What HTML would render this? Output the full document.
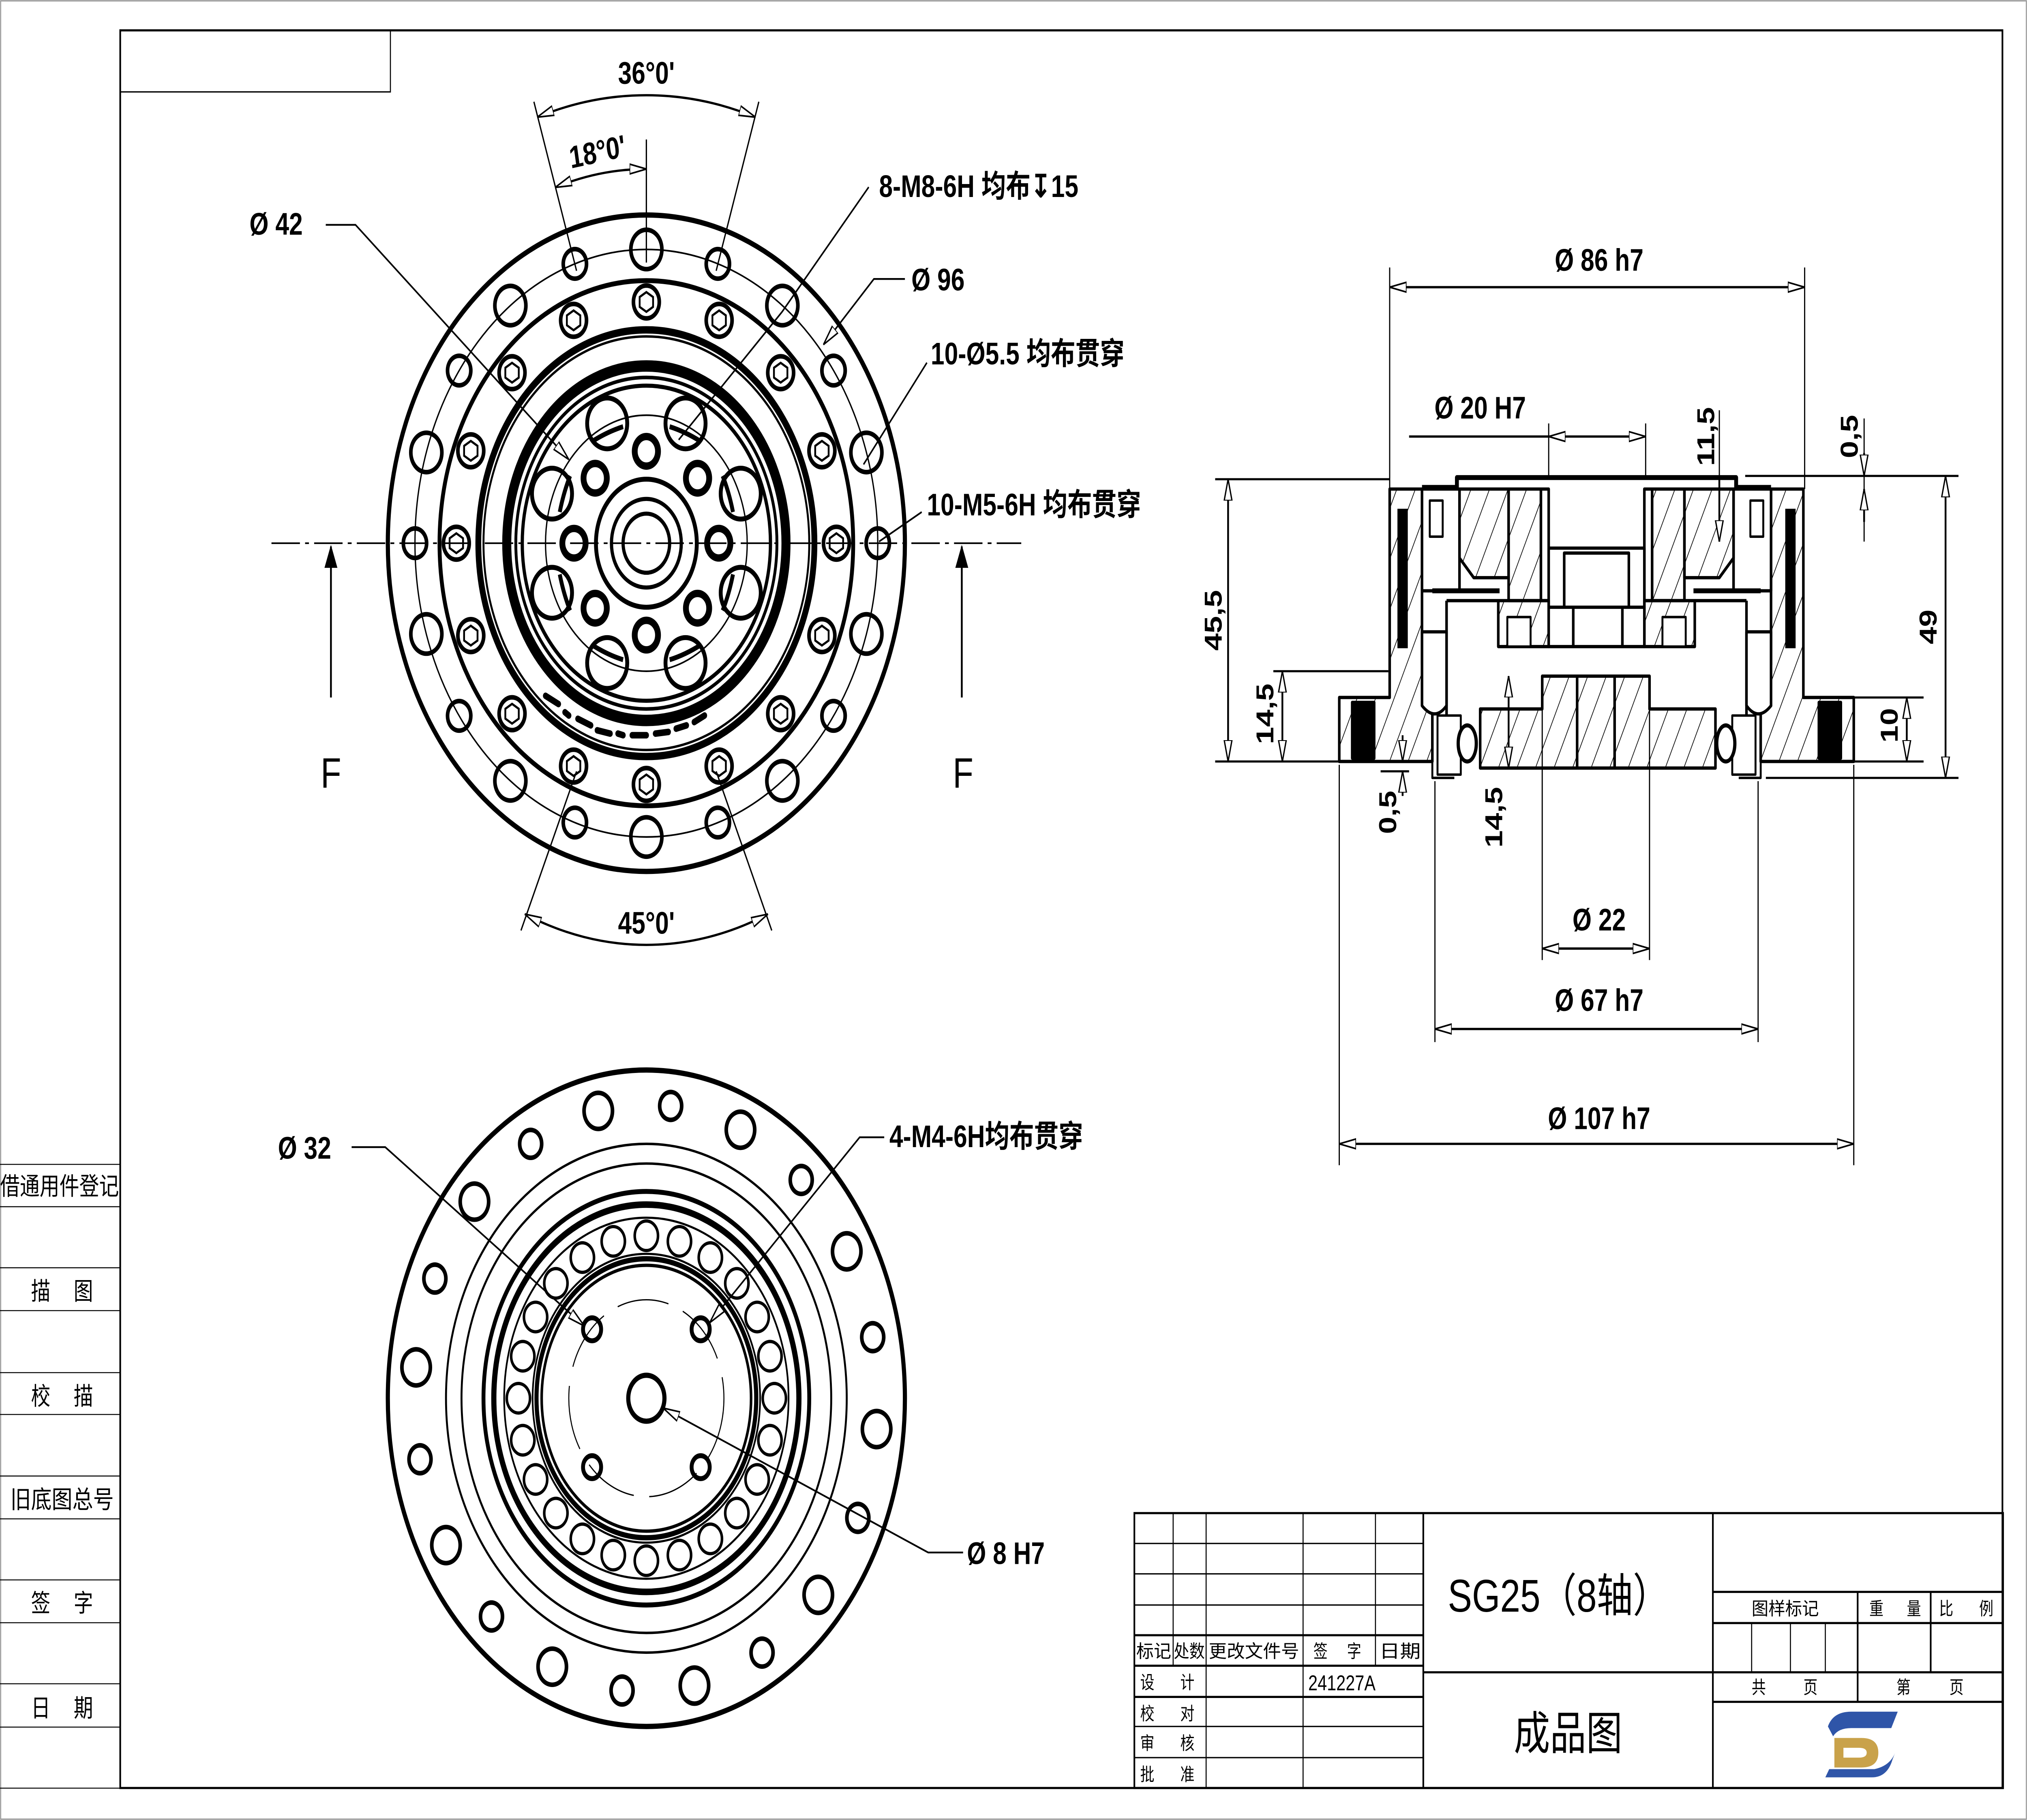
<!DOCTYPE html>
<html><head><meta charset="utf-8"><style>
html,body{margin:0;padding:0;background:#fff;overflow:hidden;width:100vw;height:100vh}
svg{display:block;width:100vw;height:100vh}
text{font-family:"Liberation Sans","Noto Sans CJK SC",sans-serif;fill:#000}
.b{font-weight:bold;font-size:19px}
.s{font-size:11px;font-family:"Liberation Serif","Noto Serif CJK SC",serif}
</style></head><body>
<svg viewBox="0 0 1568 1109" preserveAspectRatio="none" xmlns="http://www.w3.org/2000/svg">
<defs>
<marker id="a" markerWidth="14" markerHeight="8" refX="13" refY="4" orient="auto-start-reverse" markerUnits="userSpaceOnUse"><path d="M0,1 L13,4 L0,7 Z" fill="#fff" stroke="#000" stroke-width="1"/></marker>
<marker id="f" markerWidth="14" markerHeight="10" refX="13" refY="5" orient="auto-start-reverse" markerUnits="userSpaceOnUse"><path d="M0,0 L14,5 L0,10 Z" fill="#000"/></marker>
<pattern id="h" width="13" height="13" patternUnits="userSpaceOnUse" patternTransform="rotate(25)"><line x1="0" y1="0" x2="0" y2="13" stroke="#000" stroke-width="1"/></pattern>
<g id="hx"><circle r="10" fill="none" stroke="#000" stroke-width="2.8"/><polygon points="0,-6 5.2,-3 5.2,3 0,6 -5.2,3 -5.2,-3" fill="none" stroke="#000" stroke-width="1.4"/></g>
<circle id="sh" r="9" fill="none" stroke="#000" stroke-width="2.8"/>
<circle id="bh" r="12" fill="none" stroke="#000" stroke-width="2.8"/>
<circle id="lh" r="15.5" fill="none" stroke="#000" stroke-width="3"/>
<circle id="mh" r="9" fill="none" stroke="#000" stroke-width="4.5"/>
<circle id="bl" r="9" fill="none" stroke="#000" stroke-width="2"/>
<circle id="b2" r="11" fill="none" stroke="#000" stroke-width="2.8"/>
<circle id="s2" r="8.5" fill="none" stroke="#000" stroke-width="2.8"/>
</defs>

<rect x="0.5" y="0.5" width="1567" height="1108" fill="none" stroke="#999" stroke-width="0.8"/>
<rect x="93" y="18.5" width="1456" height="1071" fill="none" stroke="#000" stroke-width="1.3"/>
<rect x="93" y="18.5" width="209" height="37.5" fill="none" stroke="#000" stroke-width="0.8"/>

<g stroke="#000" stroke-width="0.6">
<line x1="0" y1="709.5" x2="93" y2="709.5"/><line x1="0" y1="735.3" x2="93" y2="735.3"/>
<line x1="0" y1="772.5" x2="93" y2="772.5"/><line x1="0" y1="798.6" x2="93" y2="798.6"/>
<line x1="0" y1="836.4" x2="93" y2="836.4"/><line x1="0" y1="861.9" x2="93" y2="861.9"/>
<line x1="0" y1="899.4" x2="93" y2="899.4"/><line x1="0" y1="925.5" x2="93" y2="925.5"/>
<line x1="0" y1="962.7" x2="93" y2="962.7"/><line x1="0" y1="988.8" x2="93" y2="988.8"/>
<line x1="0" y1="1026" x2="93" y2="1026"/><line x1="0" y1="1052.4" x2="93" y2="1052.4"/>
<line x1="0" y1="1089.6" x2="93" y2="1089.6"/>
</g>
<g class="s">
<text x="0" y="728" textLength="92" lengthAdjust="spacingAndGlyphs" style="font-size:15px">借通用件登记</text>
<text x="24" y="792" style="font-size:15px">描</text><text x="57" y="792" style="font-size:15px">图</text>
<text x="24" y="856" style="font-size:15px">校</text><text x="57" y="856" style="font-size:15px">描</text>
<text x="8" y="919" textLength="80" lengthAdjust="spacingAndGlyphs" style="font-size:15px">旧底图总号</text>
<text x="24" y="982" style="font-size:15px">签</text><text x="57" y="982" style="font-size:15px">字</text>
<text x="24" y="1046" style="font-size:15px">日</text><text x="57" y="1046" style="font-size:15px">期</text>
</g>

<!-- TOP VIEW -->
<g fill="none" stroke="#000">
<circle cx="500" cy="331" r="200" stroke-width="3.2"/>
<circle cx="500" cy="331" r="179" stroke-width="1"/>
<circle cx="500" cy="331" r="160" stroke-width="3"/>
<circle cx="500" cy="331" r="130" stroke-width="4.5"/>
<circle cx="500" cy="331" r="126" stroke-width="1.5"/>
<circle cx="500" cy="331" r="108" stroke-width="7"/>
<circle cx="500" cy="331" r="101" stroke-width="2.2"/>
<circle cx="500" cy="331" r="96" stroke-width="2.5"/>
<circle cx="500" cy="331" r="78" stroke-width="1"/>
<circle cx="500" cy="331" r="39" stroke-width="3"/>
<circle cx="500" cy="331" r="27" stroke-width="2.5"/>
<circle cx="500" cy="331" r="18" stroke-width="2.5"/>
</g>
<use href="#sh" x="679" y="331"/><use href="#sh" x="644.8" y="225.8"/><use href="#sh" x="555.3" y="160.8"/><use href="#sh" x="444.7" y="160.8"/><use href="#sh" x="355.2" y="225.8"/><use href="#sh" x="321" y="331"/><use href="#sh" x="355.2" y="436.2"/><use href="#sh" x="444.7" y="501.2"/><use href="#sh" x="555.3" y="501.2"/><use href="#sh" x="644.8" y="436.2"/>
<use href="#bh" x="670.2" y="275.7"/><use href="#bh" x="605.2" y="186.2"/><use href="#bh" x="500" y="152"/><use href="#bh" x="394.8" y="186.2"/><use href="#bh" x="329.8" y="275.7"/><use href="#bh" x="329.8" y="386.3"/><use href="#bh" x="394.8" y="475.8"/><use href="#bh" x="500" y="510"/><use href="#bh" x="605.2" y="475.8"/><use href="#bh" x="670.2" y="386.3"/>
<use href="#hx" x="647" y="331"/><use href="#hx" x="635.8" y="274.7"/><use href="#hx" x="603.9" y="227.1"/><use href="#hx" x="556.3" y="195.2"/><use href="#hx" x="500" y="184"/><use href="#hx" x="443.7" y="195.2"/><use href="#hx" x="396.1" y="227.1"/><use href="#hx" x="364.2" y="274.7"/><use href="#hx" x="353" y="331"/><use href="#hx" x="364.2" y="387.3"/><use href="#hx" x="396.1" y="434.9"/><use href="#hx" x="443.7" y="466.8"/><use href="#hx" x="500" y="478"/><use href="#hx" x="556.3" y="466.8"/><use href="#hx" x="603.9" y="434.9"/><use href="#hx" x="635.8" y="387.3"/>
<use href="#lh" x="573" y="300.8"/><use href="#lh" x="530.3" y="258"/><use href="#lh" x="469.7" y="258"/><use href="#lh" x="427" y="300.8"/><use href="#lh" x="427" y="361.2"/><use href="#lh" x="469.7" y="404"/><use href="#lh" x="530.3" y="404"/><use href="#lh" x="573" y="361.2"/>
<g fill="none" stroke="#000" stroke-width="3">
<path d="M458,269 Q470,263 482,260"/><path d="M518,260 Q530,263 542,269"/><path d="M433,312 Q436,300 441,290"/><path d="M567,312 Q564,300 559,290"/>
<path d="M433,350 Q436,362 441,372"/><path d="M567,350 Q564,362 559,372"/><path d="M458,393 Q470,399 482,402"/><path d="M518,402 Q530,399 542,393"/>
</g>
<use href="#mh" x="556" y="331"/><use href="#mh" x="539.6" y="291.4"/><use href="#mh" x="500" y="275"/><use href="#mh" x="460.4" y="291.4"/><use href="#mh" x="444" y="331"/><use href="#mh" x="460.4" y="370.6"/><use href="#mh" x="500" y="387"/><use href="#mh" x="539.6" y="370.6"/>
<g stroke="#000" stroke-width="4" stroke-linecap="round" fill="none">
<path d="M422,424 L432,429"/><path d="M437,434 L440,436"/><path d="M447,438 L457,442"/><path d="M462,445 L472,447"/><path d="M478,447 L482,448"/><path d="M489,448 L500,448"/><path d="M507,447 L517,446"/><path d="M523,444 L531,442"/><path d="M537,440 L545,436"/>
</g>
<g stroke="#000" stroke-width="1">
<line x1="210" y1="331" x2="790" y2="331" stroke-dasharray="22,4,3,4"/>
<line x1="500" y1="85" x2="500" y2="160"/>
</g>
<g fill="none" stroke="#000" stroke-width="1">
<line x1="413" y1="62" x2="446" y2="165"/><line x1="587" y1="62" x2="554" y2="165"/>
<line x1="403" y1="567" x2="446" y2="470"/><line x1="597" y1="567" x2="554" y2="470"/>
</g>
<g fill="none" stroke="#000" stroke-width="1.4">
<path d="M415.6,71.4 A273,273 0 0 1 584.4,71.4" marker-start="url(#a)" marker-end="url(#a)"/>
<path d="M429.5,114.2 A228,228 0 0 1 500,103" marker-start="url(#a)" marker-end="url(#a)"/>
<path d="M406,557 A245,245 0 0 0 594,557" marker-start="url(#a)" marker-end="url(#a)"/>
</g>
<text class="b" x="500" y="51" text-anchor="middle">36°0'</text>
<text class="b" x="462" y="99" text-anchor="middle" transform="rotate(-10 462 92)">18°0'</text>
<text class="b" x="500" y="569" text-anchor="middle">45°0'</text>
<g fill="none" stroke="#000" stroke-width="1.1">
<polyline points="252,137 275,137 440,280" marker-end="url(#a)"/>
<polyline points="672,114 605,190 525,268"/>
<polyline points="700,170 676,170 637,210" marker-end="url(#a)"/>
<line x1="717" y1="221" x2="668" y2="283"/>
<line x1="713" y1="312" x2="680" y2="330"/>
</g>
<text class="b" x="193" y="143">Ø  42</text>
<text class="b" x="680" y="120">8-M8-6H 均布↧15</text>
<text class="b" x="705" y="177">Ø  96</text>
<text class="b" x="720" y="222">10-Ø5.5 均布贯穿</text>
<text class="b" x="717" y="314">10-M5-6H 均布贯穿</text>
<g stroke="#000" stroke-width="1.4">
<line x1="256" y1="425" x2="256" y2="333" marker-end="url(#f)"/>
<line x1="744" y1="425" x2="744" y2="333" marker-end="url(#f)"/>
</g>
<text x="256" y="480" text-anchor="middle" style="font-size:26px">F</text>
<text x="745" y="480" text-anchor="middle" style="font-size:26px">F</text>

<!-- BOTTOM VIEW -->
<g fill="none" stroke="#000">
<circle cx="500" cy="852" r="200" stroke-width="3.2"/>
<circle cx="500" cy="852" r="155" stroke-width="1.5"/>
<circle cx="500" cy="852" r="143" stroke-width="1.5"/>
<circle cx="500" cy="852" r="126" stroke-width="3"/>
<circle cx="500" cy="852" r="118" stroke-width="4"/>
<circle cx="500" cy="852" r="110" stroke-width="1.3"/>
<circle cx="500" cy="852" r="88" stroke-width="1.3"/>
<circle cx="500" cy="852" r="85" stroke-width="3.2"/>
<circle cx="500" cy="852" r="81" stroke-width="2"/>
<circle cx="500" cy="852" r="60" stroke-width="0.8" stroke-dasharray="40,12"/>
<circle cx="500" cy="852" r="14" stroke-width="3.2"/>
<circle cx="458" cy="810" r="7" stroke-width="3"/><circle cx="542" cy="810" r="7" stroke-width="3"/>
<circle cx="458" cy="894" r="7" stroke-width="3"/><circle cx="542" cy="894" r="7" stroke-width="3"/>
</g>
<use href="#b2" x="462.8" y="676.9"/><use href="#b2" x="367" y="732.2"/><use href="#b2" x="321.9" y="833.2"/><use href="#b2" x="345" y="941.5"/><use href="#b2" x="427.2" y="1015.6"/><use href="#b2" x="537.2" y="1027.1"/><use href="#b2" x="633" y="971.8"/><use href="#b2" x="678.1" y="870.8"/><use href="#b2" x="655" y="762.5"/><use href="#b2" x="572.8" y="688.4"/>
<use href="#s2" x="518.8" y="673.9"/><use href="#s2" x="410.5" y="697"/><use href="#s2" x="336.4" y="779.1"/><use href="#s2" x="324.9" y="889.2"/><use href="#s2" x="380.2" y="985"/><use href="#s2" x="481.2" y="1030.1"/><use href="#s2" x="589.5" y="1007"/><use href="#s2" x="663.6" y="924.9"/><use href="#s2" x="675.1" y="814.8"/><use href="#s2" x="619.8" y="719"/>
<use href="#bl" x="599" y="852"/><use href="#bl" x="595.6" y="826.4"/><use href="#bl" x="585.7" y="802.5"/><use href="#bl" x="570" y="782"/><use href="#bl" x="549.5" y="766.3"/><use href="#bl" x="525.6" y="756.4"/><use href="#bl" x="500" y="753"/><use href="#bl" x="474.4" y="756.4"/><use href="#bl" x="450.5" y="766.3"/><use href="#bl" x="430" y="782"/><use href="#bl" x="414.3" y="802.5"/><use href="#bl" x="404.4" y="826.4"/><use href="#bl" x="401" y="852"/><use href="#bl" x="404.4" y="877.6"/><use href="#bl" x="414.3" y="901.5"/><use href="#bl" x="430" y="922"/><use href="#bl" x="450.5" y="937.7"/><use href="#bl" x="474.4" y="947.6"/><use href="#bl" x="500" y="951"/><use href="#bl" x="525.6" y="947.6"/><use href="#bl" x="549.5" y="937.7"/><use href="#bl" x="570" y="922"/><use href="#bl" x="585.7" y="901.5"/><use href="#bl" x="595.6" y="877.6"/>
<g fill="none" stroke="#000" stroke-width="1.1">
<polyline points="272,699 298,699 452,808" marker-end="url(#a)"/>
<polyline points="684,693 665,693 549,806" marker-end="url(#a)"/>
<polyline points="745,946 718,946 513,858" marker-end="url(#a)"/>
</g>
<text class="b" x="215" y="706">Ø  32</text>
<text class="b" x="688" y="699">4-M4-6H均布贯穿</text>
<text class="b" x="748" y="953">Ø  8   H7</text>

<!-- SECTION VIEW -->
<g stroke="#000" stroke-width="2" stroke-linejoin="round">
<path d="M1036,425 H1075 V298 H1100 V405 L1108,412 V464 H1036 Z" fill="url(#h)"/>
<path d="M1434,425 H1395 V298 H1370 V405 L1362,412 V464 H1434 Z" fill="url(#h)"/>
<rect x="1046" y="428" width="17" height="34" fill="#000"/>
<rect x="1407" y="428" width="17" height="34" fill="#000"/>
<rect x="1081" y="310" width="8" height="85" fill="#000" stroke="none"/>
<rect x="1381" y="310" width="8" height="85" fill="#000" stroke="none"/>
<path d="M1100,297 H1127 V291 H1343 V297 H1370" fill="none" stroke-width="3"/>
<rect x="1100" y="298" width="29" height="62" fill="#fff"/>
<rect x="1106" y="305" width="10" height="22" fill="none" stroke-width="1.5"/>
<rect x="1341" y="298" width="29" height="62" fill="#fff"/>
<rect x="1354" y="305" width="10" height="22" fill="none" stroke-width="1.5"/>
<path d="M1129,298 H1167 V352 H1140 L1129,340 Z" fill="url(#h)"/>
<path d="M1341,298 H1303 V352 H1330 L1341,340 Z" fill="url(#h)"/>
<rect x="1167" y="298" width="25" height="68" fill="url(#h)"/>
<rect x="1278" y="298" width="25" height="68" fill="url(#h)"/>
<rect x="1192" y="298" width="6" height="68" fill="#fff"/>
<rect x="1272" y="298" width="6" height="68" fill="#fff"/>
<rect x="1198" y="334" width="74" height="36" fill="#fff"/>
<rect x="1210" y="337" width="50" height="33" fill="none"/>
<path d="M1159,366 H1198 V394 H1159 Z" fill="url(#h)"/>
<path d="M1311,366 H1272 V394 H1311 Z" fill="url(#h)"/>
<rect x="1198" y="370" width="74" height="24" fill="#fff"/>
<line x1="1217" y1="370" x2="1217" y2="394"/><line x1="1255" y1="370" x2="1255" y2="394"/>
<rect x="1166" y="376" width="18" height="18" fill="#fff" stroke-width="1.5"/>
<rect x="1286" y="376" width="18" height="18" fill="#fff" stroke-width="1.5"/>
<path d="M1108,360 H1160" fill="none" stroke-width="3"/>
<path d="M1362,360 H1310" fill="none" stroke-width="3"/>
<path d="M1119,366 H1159" fill="none" stroke-width="2"/>
<path d="M1351,366 H1311" fill="none" stroke-width="2"/>
<path d="M1119,366 V438 M1351,366 V438" fill="none"/>
<path d="M1100,385 H1119 V430 Q1110,440 1100,430 Z" fill="#fff"/>
<path d="M1370,385 H1351 V430 Q1360,440 1370,430 Z" fill="#fff"/>
<path d="M1145,468 V432 H1193 V412 H1276 V432 H1327 V468 Z" fill="url(#h)"/>
<line x1="1220" y1="412" x2="1220" y2="468"/><line x1="1249" y1="412" x2="1249" y2="468"/>
<rect x="1112" y="436" width="18" height="36" fill="#fff" stroke-width="1.5"/>
<rect x="1340" y="436" width="18" height="36" fill="#fff" stroke-width="1.5"/>
<ellipse cx="1135" cy="453" rx="7" ry="11" fill="#fff" stroke-width="2.5"/>
<ellipse cx="1335" cy="453" rx="7" ry="11" fill="#fff" stroke-width="2.5"/>
<path d="M1108,464 V474 H1125 M1362,464 V474 H1345" fill="none" stroke-width="1.5"/>
</g>
<g stroke="#000" stroke-width="0.9" fill="none">
<line x1="1075" y1="163" x2="1075" y2="298"/><line x1="1396" y1="163" x2="1396" y2="298"/>
<line x1="1198" y1="258" x2="1198" y2="292"/><line x1="1273" y1="258" x2="1273" y2="292"/>
<line x1="940" y1="292" x2="1075" y2="292" stroke-width="1.3"/>
<line x1="1350" y1="290" x2="1515" y2="290" stroke-width="1.3"/>
<line x1="940" y1="464" x2="1036" y2="464" stroke-width="1.3"/>
<line x1="985" y1="409" x2="1074" y2="409" stroke-width="1.3"/>
<line x1="1366" y1="474" x2="1515" y2="474" stroke-width="1.3"/>
<line x1="1430" y1="425" x2="1488" y2="425" stroke-width="1.3"/>
<line x1="1430" y1="464" x2="1488" y2="464" stroke-width="1.3"/>
<line x1="1036" y1="466" x2="1036" y2="710"/><line x1="1434" y1="466" x2="1434" y2="710"/>
<line x1="1110" y1="476" x2="1110" y2="635"/><line x1="1360" y1="476" x2="1360" y2="635"/>
<line x1="1193" y1="412" x2="1193" y2="585"/><line x1="1276" y1="412" x2="1276" y2="585"/>
<line x1="1330" y1="250" x2="1330" y2="330"/><line x1="1442" y1="255" x2="1442" y2="330"/>
<line x1="1068" y1="470" x2="1090" y2="470" stroke-width="1.3"/>
</g>
<g stroke="#000" stroke-width="1.4" fill="none">
<line x1="1075" y1="175" x2="1396" y2="175" marker-start="url(#a)" marker-end="url(#a)"/>
<line x1="1090" y1="266" x2="1198" y2="266"/>
<line x1="1198" y1="266" x2="1273" y2="266" marker-start="url(#a)" marker-end="url(#a)"/>
<line x1="950" y1="292" x2="950" y2="464" marker-start="url(#a)" marker-end="url(#a)"/>
<line x1="992" y1="409" x2="992" y2="464" marker-start="url(#a)" marker-end="url(#a)"/>
<line x1="1505" y1="290" x2="1505" y2="474" marker-start="url(#a)" marker-end="url(#a)"/>
<line x1="1475" y1="425" x2="1475" y2="464" marker-start="url(#a)" marker-end="url(#a)"/>
<line x1="1167" y1="412" x2="1167" y2="468" marker-start="url(#a)" marker-end="url(#a)"/>
<line x1="1330" y1="292" x2="1330" y2="330" marker-end="url(#a)"/>
<line x1="1442" y1="276" x2="1442" y2="290" marker-end="url(#a)"/>
<line x1="1442" y1="318" x2="1442" y2="298" marker-end="url(#a)"/>
<line x1="1085" y1="485" x2="1085" y2="470" marker-end="url(#a)"/>
<line x1="1085" y1="448" x2="1085" y2="464" marker-end="url(#a)"/>
<line x1="1193" y1="578" x2="1276" y2="578" marker-start="url(#a)" marker-end="url(#a)"/>
<line x1="1110" y1="627" x2="1360" y2="627" marker-start="url(#a)" marker-end="url(#a)"/>
<line x1="1036" y1="697" x2="1434" y2="697" marker-start="url(#a)" marker-end="url(#a)"/>
</g>
<text class="b" x="1237" y="165" text-anchor="middle">Ø  86  h7</text>
<text class="b" x="1145" y="255" text-anchor="middle">Ø  20  H7</text>
<text class="b" x="1237" y="567" text-anchor="middle">Ø  22</text>
<text class="b" x="1237" y="616" text-anchor="middle">Ø  67  h7</text>
<text class="b" x="1237" y="688" text-anchor="middle">Ø  107  h7</text>
<text class="b" transform="translate(945,378) rotate(-90)" text-anchor="middle">45,5</text>
<text class="b" transform="translate(985,435) rotate(-90)" text-anchor="middle">14,5</text>
<text class="b" transform="translate(1326,266) rotate(-90)" text-anchor="middle">11,5</text>
<text class="b" transform="translate(1437,266) rotate(-90)" text-anchor="middle">0,5</text>
<text class="b" transform="translate(1498,382) rotate(-90)" text-anchor="middle">49</text>
<text class="b" transform="translate(1468,442) rotate(-90)" text-anchor="middle">10</text>
<text class="b" transform="translate(1080,495) rotate(-90)" text-anchor="middle">0,5</text>
<text class="b" transform="translate(1162,498) rotate(-90)" text-anchor="middle">14,5</text>

<!-- TITLE BLOCK -->
<g stroke="#000" fill="none">
<rect x="877.5" y="922" width="672" height="167.5" stroke-width="1.3"/>
<g stroke-width="0.8">
<line x1="907.5" y1="922" x2="907.5" y2="1015"/>
<line x1="933" y1="922" x2="933" y2="1089"/>
<line x1="1008" y1="922" x2="1008" y2="1089"/>
<line x1="1064" y1="922" x2="1064" y2="1015"/>
<line x1="877.5" y1="940.5" x2="1101" y2="940.5"/>
<line x1="877.5" y1="959" x2="1101" y2="959"/>
<line x1="877.5" y1="978" x2="1101" y2="978"/>
<line x1="877.5" y1="1052" x2="1101" y2="1052"/>
<line x1="877.5" y1="1071" x2="1101" y2="1071"/>
<line x1="1355" y1="989" x2="1355" y2="1019"/>
<line x1="1385" y1="989" x2="1385" y2="1019"/>
<line x1="1412" y1="989" x2="1412" y2="1019"/>
</g>
<g stroke-width="1.3">
<line x1="877.5" y1="996.4" x2="1101" y2="996.4"/>
<line x1="877.5" y1="1015" x2="1101" y2="1015"/>
<line x1="877.5" y1="1034" x2="1101" y2="1034"/>
<line x1="1101" y1="922" x2="1101" y2="1089"/>
<line x1="1325" y1="922" x2="1325" y2="1089"/>
<line x1="1101" y1="1019" x2="1549" y2="1019"/>
<line x1="1325" y1="970" x2="1549" y2="970"/>
<line x1="1325" y1="989" x2="1549" y2="989"/>
<line x1="1325" y1="1037" x2="1549" y2="1037"/>
<line x1="1437" y1="970" x2="1437" y2="1037"/>
<line x1="1493.5" y1="970" x2="1493.5" y2="1019"/>
</g>
</g>
<g class="s">
<text x="879" y="1010" textLength="27" lengthAdjust="spacingAndGlyphs">标记</text>
<text x="908" y="1010" textLength="24" lengthAdjust="spacingAndGlyphs">处数</text>
<text x="935" y="1010" textLength="70" lengthAdjust="spacingAndGlyphs">更改文件号</text>
<text x="1016" y="1010">签</text><text x="1042" y="1010">字</text>
<text x="1067" y="1010" textLength="32" lengthAdjust="spacingAndGlyphs">日期</text>
<text x="882" y="1029">设</text><text x="913" y="1029">计</text>
<text x="882" y="1048">校</text><text x="913" y="1048">对</text>
<text x="882" y="1066">审</text><text x="913" y="1066">核</text>
<text x="882" y="1085">批</text><text x="913" y="1085">准</text>
<text x="1355" y="984" textLength="52" lengthAdjust="spacingAndGlyphs">图样标记</text>
<text x="1446" y="984">重</text><text x="1475" y="984">量</text>
<text x="1500" y="984">比</text><text x="1531" y="984">例</text>
<text x="1355" y="1032">共</text><text x="1395" y="1032">页</text>
<text x="1467" y="1032">第</text><text x="1508" y="1032">页</text>
</g>
<text x="1012" y="1030" style="font-size:13px;font-family:'Liberation Sans',sans-serif">241227A</text>
<text x="1120" y="982" style="font-size:28px;font-family:'Liberation Sans','Noto Sans CJK SC',sans-serif">SG25（8轴）</text>
<text x="1213" y="1066" text-anchor="middle" style="font-size:28px;font-family:'Liberation Sans','Noto Sans CJK SC',sans-serif">成品图</text>
<path d="M1414,1052 Q1418,1043 1432,1043 H1468 L1463,1053 H1432 Q1422,1053 1418,1058 Z" fill="#2f55a8"/>
<path d="M1419,1059 H1440 Q1453,1059 1453,1068 Q1453,1077 1440,1077 H1419 V1071 H1438 Q1444,1071 1444,1068 Q1444,1065 1438,1065 H1426 V1071 H1419 Z" fill="#c9a24a"/>
<path d="M1412,1083 H1448 Q1460,1083 1464,1072 L1466,1068 Q1462,1076 1450,1078 H1415 Z" fill="#2f55a8"/>
</svg>
</body></html>
